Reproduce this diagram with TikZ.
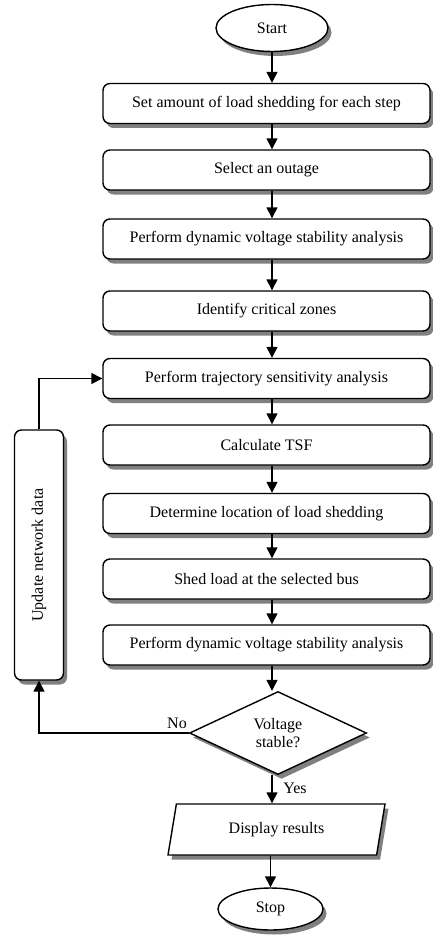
\documentclass[tikz,border=0pt]{standalone}
\usepackage{fontspec}
\setmainfont{Liberation Serif}
\usetikzlibrary{arrows.meta,shapes.geometric,shadows,calc}
\begin{document}
\begin{tikzpicture}[x=1pt,y=-1pt,
  every node/.style={font=\fontsize{16}{18}\selectfont},
  shad/.style={drop shadow={shadow xshift=3.5pt,shadow yshift=-4.5pt,fill=black!50,opacity=1}},
  box/.style={draw,line width=1.4pt,rounded corners=7pt,fill=white,minimum width=327pt,minimum height=40pt,inner sep=0pt,shad},
  term/.style={draw,ellipse,line width=1.4pt,fill=white,inner sep=0pt,shad},
  arr/.style={line width=1.4pt,-{Triangle[length=11pt,width=11pt]}},
  lbl/.style={inner sep=0pt}]
\useasboundingbox (0,0) rectangle (432,936);
\coordinate (col) at (272,0);
\node[term,minimum width=112pt,minimum height=47pt] (start) at (272,28) {Start};
\node[box] (b1) at (266.5,103.5) {Set amount of load shedding for each step};
\node[box] (b2) at (266.5,170) {Select an outage};
\node[box] (b3) at (266.5,239) {Perform dynamic voltage stability analysis};
\node[box] (b4) at (266.5,311) {Identify critical zones};
\node[box] (b5) at (266.5,378.5) {Perform trajectory sensitivity analysis};
\node[box] (b6) at (266.5,445) {Calculate TSF};
\node[box] (b7) at (266.5,513.5) {Determine location of load shedding};
\node[box] (b8) at (266.5,579) {Shed load at the selected bus};
\node[box] (b9) at (266.5,645) {Perform dynamic voltage stability analysis};
\node[draw,diamond,line width=1.4pt,fill=white,shad,minimum width=177pt,minimum height=83pt,inner sep=0pt,align=center] (dia) at (278,733) {Voltage\\stable?};
\node[draw,trapezium,trapezium left angle=60,trapezium right angle=120,trapezium stretches body,line width=1.4pt,fill=white,shad,minimum width=217pt,minimum height=51pt,inner sep=0pt] (disp) at (276.5,829.5) {Display results};
\node[term,minimum width=105pt,minimum height=42pt] (stop) at (270.5,909) {Stop};
\node[box,minimum width=49pt,minimum height=250pt] (upd) at (39,555) {\rotatebox{90}{Update network data}};
\draw[arr] (start.south) -- (start.south |- b1.north);
\foreach \a/\b in {b1/b2,b2/b3,b3/b4,b4/b5,b5/b6,b6/b7,b7/b8,b8/b9}
  \draw[arr] (\a.south -| col) -- (\b.north -| col);
\draw[arr] (b9.south -| col) -- (dia.north -| col);
\draw[arr] (dia.south -| col) -- (disp.north -| col);
\draw[arr] (disp.south -| stop.north) -- (stop.north);
\draw[arr] (dia.west) -| (upd.south);
\draw[arr] (upd.north) |- (b5.west);
\node[lbl] (no) at (177,723) {No};
\node[lbl] (yes) at (295,788) {Yes};
\end{tikzpicture}
\end{document}
